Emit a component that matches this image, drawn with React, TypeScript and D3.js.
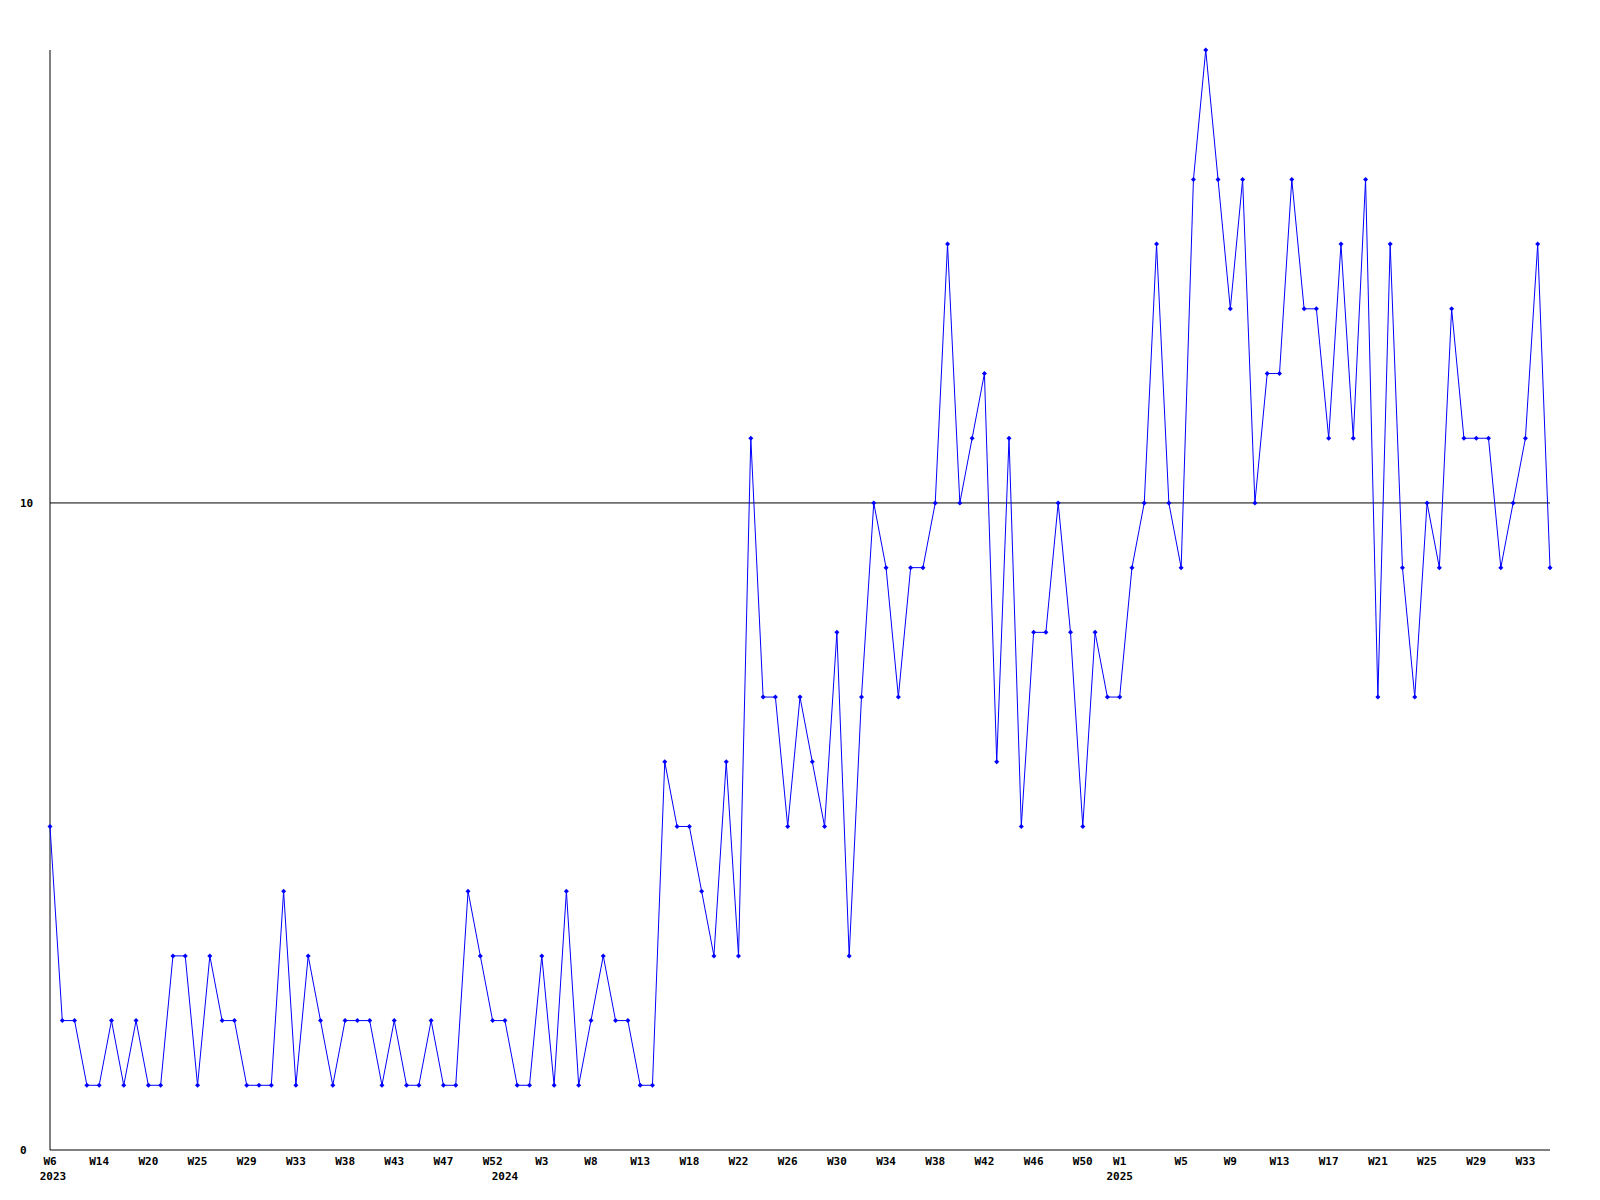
import * as d3 from 'd3'

// weekly counts, one per point, left to right
const values = [
  5, 2, 2, 1, 1, 2, 1, 2, 1, 1,
  3, 3, 1, 3, 2, 2, 1, 1, 1, 4,
  1, 3, 2, 1, 2, 2, 2, 1, 2, 1,
  1, 2, 1, 1, 4, 3, 2, 2, 1, 1,
  3, 1, 4, 1, 2, 3, 2, 2, 1, 1,
  6, 5, 5, 4, 3, 6, 3, 11, 7, 7,
  5, 7, 6, 5, 8, 3, 7, 10, 9, 7,
  9, 9, 10, 14, 10, 11, 12, 6, 11, 5,
  8, 8, 10, 8, 5, 8, 7, 7, 9, 10,
  14, 10, 9, 15, 17, 15, 13, 15, 10, 12,
  12, 15, 13, 13, 11, 14, 11, 15, 7, 14,
  9, 7, 10, 9, 13, 11, 11, 11, 9, 10,
  11, 14, 9,
]

// labelled points: week label and the index of the point it sits under
const weekLabels = [
  'W6', 'W14', 'W20', 'W25', 'W29', 'W33', 'W38', 'W43', 'W47', 'W52',
  'W3', 'W8', 'W13', 'W18', 'W22', 'W26', 'W30', 'W34', 'W38', 'W42',
  'W46', 'W50', 'W1', 'W5', 'W9', 'W13', 'W17', 'W21', 'W25', 'W29', 'W33',
]
const weekLabelIndex = [
  0, 4, 8, 12, 16, 20, 24, 28, 32, 36,
  40, 44, 48, 52, 56, 60, 64, 68, 72, 76,
  80, 84, 87, 92, 96, 100, 104, 108, 112, 116, 120,
]

const years = ['2023', '2024', '2025']
const yearStartIndex = [0, 37, 87]

const yTicks = [0, 10]
const yMax = 17

const width = 1600
const height = 1200
const marginLeft = 50
const marginRight = 50
const marginTop = 50
const marginBottom = 50

const font = '"DejaVu Sans Mono", monospace'

export default function App() {
  const x = d3.scaleLinear([0, values.length - 1], [marginLeft, width - marginRight])
  const y = d3.scaleLinear([0, yMax], [height - marginBottom, marginTop])
  const line = d3.line<number>((d, i) => x(i), (d) => y(d))
  const path = line(values) || undefined
  const x0 = x(0)
  const x1 = x(values.length - 1)
  const yBase = y(0)

  return (
    <svg
      width={width}
      height={height}
      viewBox={`0 0 ${width} ${height}`}
      style={{ position: 'absolute', left: 0, top: 0, background: '#fff' }}
    >
      <rect width={width} height={height} fill="#fff" />
      {/* grid line at 10 */}
      {yTicks.filter((t) => t > 0).map((t) => (
        <line key={t} x1={x0} x2={x1} y1={y(t)} y2={y(t)} stroke="#000" strokeWidth={1} />
      ))}
      {/* axes */}
      <line x1={x0} x2={x0} y1={y(yMax)} y2={yBase} stroke="#000" strokeWidth={1} />
      <line x1={x0} x2={x1} y1={yBase} y2={yBase} stroke="#000" strokeWidth={1} />

      <g fontFamily={font} fontSize={11} fontWeight="bold" fill="#000">
        {yTicks.map((t) => (
          <text key={t} x={20} y={y(t)} dy="0.35em">
            {t}
          </text>
        ))}
        {weekLabels.map((label, k) => (
          <text key={k} x={x(weekLabelIndex[k])} y={yBase + 15} textAnchor="middle">
            {label}
          </text>
        ))}
        {years.map((label, k) => (
          <text key={label} x={x(yearStartIndex[k]) + (k === 0 ? 3 : 0)} y={yBase + 30} textAnchor="middle">
            {label}
          </text>
        ))}
      </g>

      <path d={path} fill="none" stroke="#0000ff" strokeWidth={1} />
      <g fill="#0000ff">
        {values.map((v, i) => {
          const cx = x(i)
          const cy = y(v)
          return (
            <path
              key={i}
              d={`M${cx},${cy - 2.5}L${cx + 2.5},${cy}L${cx},${cy + 2.5}L${cx - 2.5},${cy}Z`}
            />
          )
        })}
      </g>
    </svg>
  )
}
